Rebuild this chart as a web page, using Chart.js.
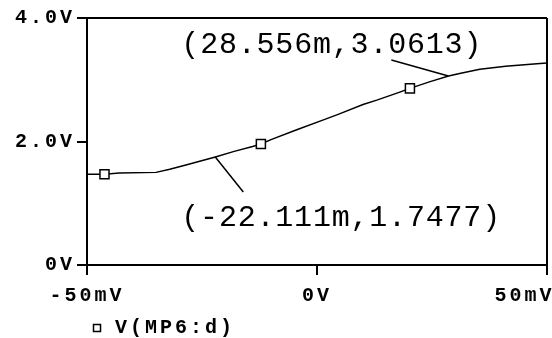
<!DOCTYPE html>
<html>
<head>
<meta charset="utf-8">
<script src="https://cdn.jsdelivr.net/npm/chart.js@4.4.0/dist/chart.umd.min.js"></script>
<style>
  html, body { margin: 0; padding: 0; background: #fff; }
  #wrap { width: 552px; height: 338px; }
</style>
</head>
<body>
<div id="wrap"><canvas id="chart"></canvas></div>
<script>
// DC sweep of the input (mV) vs drain voltage of MP6 (V)
const seriesLabel = 'V(MP6:d)';
const sweepMv = [-50, -46.2, -43, -35, -32, -28.5, -25.5, -22.1, -18, -14, -12.2, -10, -4.4, 1.4, 4.6, 10, 13, 18, 20.2, 24.6, 28.6, 31, 35.4, 41, 47.8, 50];
const drainV = [1.47, 1.47, 1.49, 1.50, 1.55, 1.62, 1.68, 1.75, 1.84, 1.92, 1.96, 2.03, 2.19, 2.35, 2.44, 2.60, 2.67, 2.80, 2.86, 2.97, 3.06, 3.10, 3.17, 3.22, 3.26, 3.27];
const markerMv = [-46.2, -12.2, 20.2];

const xTicks = [-50, 0, 50];
const xTickLabels = ['-50mV', '0V', '50mV'];
const yTicks = [0, 2, 4];
const yTickLabels = ['0V', '2.0V', '4.0V'];

// probe cursors
const cursorX = [28.556, -22.111];
const cursorY = [3.0613, 1.7477];
const cursorText = ['(28.556m,3.0613)', '(-22.111m,1.7477)'];

// where the cursor text sits relative to its point (px)
const cursorOffsets = [
  { lineDx: -57, lineDy: -16, textDx: -267, textDy: -22.5 },
  { lineDx: 28, lineDy: 35, textDx: -34, textDy: 68.5 }
];

const tickFont = { family: '"Liberation Mono", monospace', size: 20, weight: 'bold' };

const points = sweepMv.map((x, i) => ({ x, y: drainV[i] }));

const monoSpacing = {
  id: 'monoSpacing',
  beforeDraw(chart) {
    chart.ctx.letterSpacing = '3px';
  }
};

const cursorLabels = {
  id: 'cursorLabels',
  afterDatasetsDraw(chart) {
    const { ctx, scales: { x, y } } = chart;
    ctx.save();
    ctx.strokeStyle = '#000';
    ctx.fillStyle = '#000';
    ctx.lineWidth = 1.5;
    ctx.font = '30px "Liberation Mono", monospace';
    ctx.letterSpacing = '0.8px';
    ctx.textAlign = 'left';
    ctx.textBaseline = 'alphabetic';
    cursorText.forEach((text, i) => {
      const px = x.getPixelForValue(cursorX[i]);
      const py = y.getPixelForValue(cursorY[i]);
      const o = cursorOffsets[i];
      ctx.beginPath();
      ctx.moveTo(px, py);
      ctx.lineTo(px + o.lineDx, py + o.lineDy);
      ctx.stroke();
      ctx.fillText(text, px + o.textDx, py + o.textDy);
    });
    ctx.restore();
  }
};

new Chart(document.getElementById('chart'), {
  type: 'line',
  data: {
    datasets: [{
      label: seriesLabel,
      data: points,
      borderColor: '#000',
      backgroundColor: '#fff',
      borderWidth: 1.5,
      tension: 0,
      pointStyle: 'rect',
      pointRadius: (c) => (markerMv.includes(sweepMv[c.dataIndex]) ? 6.4 : 0),
      pointBackgroundColor: '#fff',
      pointBorderColor: '#000',
      pointBorderWidth: 1.5
    }]
  },
  options: {
    responsive: true,
    maintainAspectRatio: false,
    animation: false,
    layout: { padding: { top: 18, right: 5, bottom: -10, left: 0 } },
    plugins: {
      tooltip: { enabled: false },
      legend: {
        position: 'bottom',
        align: 'start',
        fullSize: false,
        labels: {
          color: '#000',
          font: tickFont,
          usePointStyle: true,
          pointStyle: 'rect',
          boxWidth: 16,
          boxHeight: 7,
          padding: 2
        }
      }
    },
    scales: {
      x: {
        type: 'linear',
        min: -50,
        max: 50,
        border: { color: '#000', width: 2 },
        grid: {
          lineWidth: 2,
          tickLength: 10,
          tickColor: '#000',
          tickWidth: 2,
          color: (c) => (c.tick && c.tick.value === 50 ? '#000' : 'rgba(0,0,0,0)')
        },
        ticks: {
          stepSize: 50,
          padding: 8.5,
          color: '#000',
          font: tickFont,
          maxRotation: 0,
          // last label pushed left so it stays inside the window
          callback: (v) => {
            const i = xTicks.indexOf(v);
            if (i < 0) return '';
            return i === xTicks.length - 1 ? xTickLabels[i] + '   ' : xTickLabels[i];
          }
        },
        afterFit: (s) => {
          s.height = 51;
          s.paddingLeft = 0;
          s.paddingRight = 0;
        }
      },
      y: {
        min: 0,
        max: 4,
        border: { color: '#000', width: 2 },
        grid: {
          lineWidth: 2,
          tickLength: 10,
          tickColor: '#000',
          tickWidth: 2,
          color: (c) => (c.tick && c.tick.value === 4 ? '#000' : 'rgba(0,0,0,0)')
        },
        ticks: {
          stepSize: 2,
          padding: 2,
          color: '#000',
          font: tickFont,
          callback: (v) => {
            const i = yTicks.indexOf(v);
            return i < 0 ? '' : yTickLabels[i];
          }
        },
        afterFit: (s) => {
          s.width = 87;
          s.paddingTop = 0;
          s.paddingBottom = 0;
        }
      }
    }
  },
  plugins: [monoSpacing, cursorLabels]
});
</script>
</body>
</html>
